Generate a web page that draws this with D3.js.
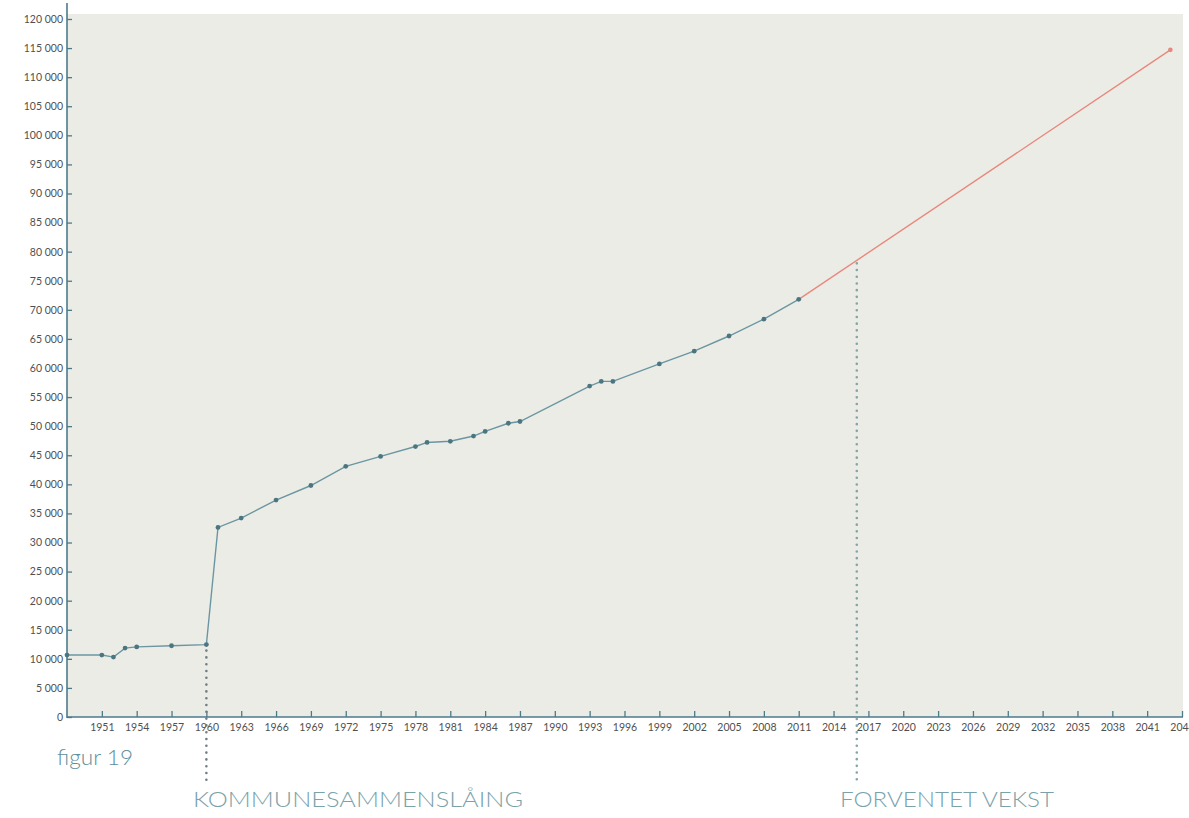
<!DOCTYPE html>
<html>
<head>
<meta charset="utf-8">
<script src="https://cdn.jsdelivr.net/npm/d3@7"></script>
<style>
  html, body { margin: 0; padding: 0; background: #ffffff; }
  svg { display: block; }
</style>
</head>
<body>
<svg id="chart" width="1189" height="818"></svg>
<script>
// ---- data ----
const years = [1948, 1951, 1952, 1953, 1954, 1957, 1960, 1961, 1963, 1966, 1969, 1972, 1975, 1978, 1979, 1981, 1983, 1984, 1986, 1987, 1993, 1994, 1995, 1999, 2002, 2005, 2008, 2011];
const population = [10650, 10650, 10300, 11850, 12050, 12250, 12450, 32600, 34200, 37300, 39800, 43100, 44800, 46500, 47200, 47400, 48300, 49100, 50500, 50800, 56900, 57700, 57700, 60700, 62900, 65500, 68400, 71800];
const forecastYears = [2011, 2043];
const forecastValues = [71800, 114700];
const xTickYears = [1951, 1954, 1957, 1960, 1963, 1966, 1969, 1972, 1975, 1978, 1981, 1984, 1987, 1990, 1993, 1996, 1999, 2002, 2005, 2008, 2011, 2014, 2017, 2020, 2023, 2026, 2029, 2032, 2035, 2038, 2041, 2044];
const yTickValues = [0, 5000, 10000, 15000, 20000, 25000, 30000, 35000, 40000, 45000, 50000, 55000, 60000, 65000, 70000, 75000, 80000, 85000, 90000, 95000, 100000, 105000, 110000, 115000, 120000];
const mergerYear = 1960;
const forecastMarkYear = 2016;
const figureLabel = "figur 19";
const mergerLabel = "KOMMUNESAMMENSLÅING";
const forecastLabel = "FORVENTET VEKST";

(function () {
// ---- layout ----
const svg = d3.select("#chart");
const pLeft = 67, pRight = 1182, pTop = 14, pBottom = 717;
const font = "'Lato', 'Open Sans', sans-serif";

const x = d3.scaleLinear().domain([1948, 2044]).range([pLeft, pRight]);
const y = d3.scaleLinear().domain([0, 120000]).range([pBottom, 19]);

// plot background
svg.append("rect")
  .attr("x", pLeft).attr("y", pTop)
  .attr("width", pRight - pLeft + 1).attr("height", pBottom - pTop)
  .attr("fill", "#ecece6");

const axisColor = "#4b7b8b";

// y axis
const yAxis = d3.axisRight(y)
  .tickValues(yTickValues)
  .tickSize(5)
  .tickFormat(d => d3.format(",")(d).replace(/,/g, " "));
const gy = svg.append("g").attr("transform", `translate(${pLeft},0)`).call(yAxis);
gy.select(".domain").remove();
gy.selectAll(".tick line").attr("stroke", axisColor).attr("stroke-width", 1.3);
gy.selectAll(".tick text")
  .attr("x", -4).attr("text-anchor", "end")
  .attr("fill", "#505050")
  .style("font-family", font).style("font-size", "10.5px");
svg.append("line")
  .attr("x1", pLeft).attr("x2", pLeft).attr("y1", 3).attr("y2", pBottom + 1)
  .attr("stroke", axisColor).attr("stroke-width", 1.6);

// x axis
const xAxis = d3.axisTop(x)
  .tickValues(xTickYears)
  .tickSize(6)
  .tickFormat(d3.format("d"));
const gx = svg.append("g").attr("transform", `translate(0,${pBottom})`).call(xAxis);
gx.select(".domain").remove();
gx.selectAll(".tick line").attr("stroke", axisColor).attr("stroke-width", 1.3);
gx.selectAll(".tick text")
  .attr("y", 14).attr("dy", 0)
  .attr("fill", "#505050")
  .style("font-family", font).style("font-size", "10.5px");
svg.append("line")
  .attr("x1", pLeft).attr("x2", pRight + 1).attr("y1", pBottom).attr("y2", pBottom)
  .attr("stroke", axisColor).attr("stroke-width", 1.6);

// forecast value at marker year (interpolated along the forecast line)
const fInterp = d3.scaleLinear().domain(forecastYears).range(forecastValues);
const mergerValue = population[years.indexOf(mergerYear)];

// dotted annotation lines
svg.append("line")
  .attr("x1", x(mergerYear)).attr("x2", x(mergerYear))
  .attr("y1", y(mergerValue) + 6).attr("y2", 782)
  .attr("stroke", "#6e7e84").attr("stroke-width", 2.6)
  .attr("stroke-linecap", "round").attr("stroke-dasharray", "0 6.8");
svg.append("line")
  .attr("x1", x(forecastMarkYear)).attr("x2", x(forecastMarkYear))
  .attr("y1", y(fInterp(forecastMarkYear)) + 3).attr("y2", 782)
  .attr("stroke", "#84a4a9").attr("stroke-width", 2.6)
  .attr("stroke-linecap", "round").attr("stroke-dasharray", "0 6.7");

// forecast line
const line = d3.line().x(d => x(d[0])).y(d => y(d[1]));
const fData = forecastYears.map((yr, i) => [yr, forecastValues[i]]);
svg.append("path").datum(fData)
  .attr("d", line).attr("fill", "none")
  .attr("stroke", "#e8887d").attr("stroke-width", 1.4);
svg.append("circle")
  .attr("cx", x(fData[1][0])).attr("cy", y(fData[1][1])).attr("r", 2.3)
  .attr("fill", "#e8887d");

// historical line
const hData = years.map((yr, i) => [yr, population[i]]);
svg.append("path").datum(hData)
  .attr("d", line).attr("fill", "none")
  .attr("stroke", "#6a96a2").attr("stroke-width", 1.4);
svg.selectAll("circle.pt").data(hData).enter().append("circle")
  .attr("class", "pt")
  .attr("cx", d => x(d[0])).attr("cy", d => y(d[1])).attr("r", 2.4)
  .attr("fill", "#4a7682");

// labels
svg.append("text").text(figureLabel)
  .attr("x", 57).attr("y", 765)
  .attr("fill", "#5f8f9b")
  .attr("textLength", 76).attr("lengthAdjust", "spacingAndGlyphs")
  .style("font-family", font).style("font-size", "21px").style("font-weight", 300);
svg.append("text").text(mergerLabel)
  .attr("x", 193).attr("y", 807)
  .attr("fill", "#7aa2aa")
  .attr("textLength", 330).attr("lengthAdjust", "spacingAndGlyphs")
  .style("font-family", font).style("font-size", "21px").style("font-weight", 300);
svg.append("text").text(forecastLabel)
  .attr("x", 840).attr("y", 807)
  .attr("fill", "#7aa2aa")
  .attr("textLength", 214).attr("lengthAdjust", "spacingAndGlyphs")
  .style("font-family", font).style("font-size", "21px").style("font-weight", 300);
})();
</script>
</body>
</html>
